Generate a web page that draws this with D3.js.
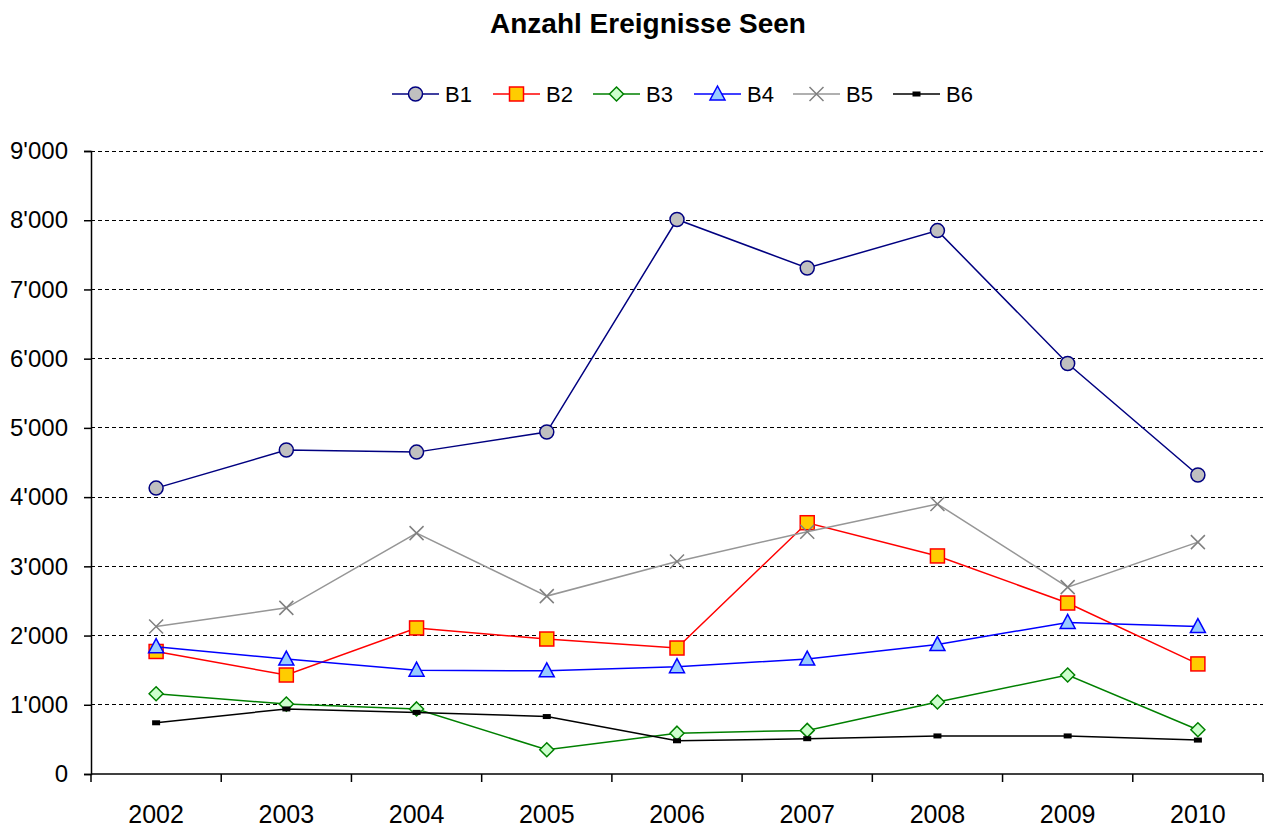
<!DOCTYPE html>
<html><head><meta charset="utf-8">
<script src="https://cdn.jsdelivr.net/npm/d3@7"></script>
<style>body{margin:0;background:#fff}svg{display:block;font-family:"Liberation Sans",Arial,sans-serif}</style>
</head><body>
<svg id="c" width="1274" height="827"></svg>
<script>
const years = ["2002","2003","2004","2005","2006","2007","2008","2009","2010"];
const B1 = [4130,4680,4650,4940,8010,7310,7850,5930,4320];
const B2 = [1770,1430,2110,1950,1820,3630,3150,2470,1590];
const B3 = [1160,1010,940,350,590,630,1040,1430,640];
const B4 = [1840,1660,1500,1490,1550,1660,1870,2190,2130];
const B5 = [2130,2400,3480,2570,3070,3500,3900,2700,3350];
const B6 = [740,940,890,830,480,510,550,550,490];
const seriesNames = ["B1","B2","B3","B4","B5","B6"];
const yTicks = [0,1000,2000,3000,4000,5000,6000,7000,8000,9000];
const title = "Anzahl Ereignisse Seen";

const svg = d3.select("#c");
const x = d3.scaleBand().domain(years).range([91,1263]);
const y = d3.scaleLinear().domain([0,9000]).range([774,151]);
const fmt = v => d3.format(",")(v).replace(/,/g,"'");

const styles = {
  B1:{line:"#000080", type:"circle", fill:"#C0C0C0", stroke:"#000080"},
  B2:{line:"#FF0000", type:"square", fill:"#FFCC00", stroke:"#FF0000"},
  B3:{line:"#008000", type:"diamond", fill:"#CCFFCC", stroke:"#008000"},
  B4:{line:"#0000FF", type:"triangle", fill:"#99CCFF", stroke:"#0000FF"},
  B5:{line:"#969696", type:"x", fill:"none", stroke:"#808080"},
  B6:{line:"#000000", type:"bar", fill:"#000000", stroke:"#000000"}
};
const data = {B1,B2,B3,B4,B5,B6};

svg.append("text").attr("x",648).attr("y",33).attr("text-anchor","middle")
  .attr("font-weight","bold").attr("font-size",28).text(title);

// grid
svg.append("g").selectAll("line").data(yTicks.filter(d=>d>0)).join("line")
  .attr("x1",91).attr("x2",1263).attr("y1",d=>y(d)).attr("y2",d=>y(d))
  .attr("stroke","#000").attr("stroke-width",1).attr("stroke-dasharray","4,3")
  .attr("shape-rendering","crispEdges");

// y axis
const ya = svg.append("g").attr("transform","translate(91,0)")
  .call(d3.axisLeft(y).tickValues(yTicks).tickFormat(fmt).tickSize(7).tickPadding(16));
ya.select(".domain").attr("stroke","#000").attr("stroke-width",1.5);
ya.selectAll(".tick line").attr("stroke","#000").attr("stroke-width",1.5);
ya.selectAll("text").attr("font-size",24).attr("fill","#000").attr("font-family","Liberation Sans, Arial, sans-serif");

// x axis
const xa = svg.append("g").attr("transform","translate(0,774)")
  .call(d3.axisBottom(x).tickSize(0).tickPadding(28));
xa.select(".domain").attr("stroke","#000").attr("stroke-width",1.5).attr("d","M91,0H1263");
xa.selectAll("text").attr("font-size",25).attr("fill","#000").attr("font-family","Liberation Sans, Arial, sans-serif")
  .attr("dy",null).attr("y",49);
svg.append("g").selectAll("line").data(d3.range(years.length+1)).join("line")
  .attr("x1",i=>91+i*x.step()).attr("x2",i=>91+i*x.step())
  .attr("y1",774).attr("y2",782).attr("stroke","#000").attr("stroke-width",1.5);

function marker(g, type, st, cx, cy){
  if(type==="circle") g.append("circle").attr("cx",cx).attr("cy",cy).attr("r",7).attr("fill",st.fill).attr("stroke",st.stroke).attr("stroke-width",1.5);
  if(type==="square") g.append("rect").attr("x",cx-7).attr("y",cy-7).attr("width",14).attr("height",14).attr("fill",st.fill).attr("stroke",st.stroke).attr("stroke-width",1.5);
  if(type==="diamond") g.append("path").attr("d",`M${cx},${cy-7}L${cx+7},${cy}L${cx},${cy+7}L${cx-7},${cy}Z`).attr("fill",st.fill).attr("stroke",st.stroke).attr("stroke-width",1.5);
  if(type==="triangle") g.append("path").attr("d",`M${cx},${cy-8}L${cx+7.5},${cy+6}L${cx-7.5},${cy+6}Z`).attr("fill",st.fill).attr("stroke",st.stroke).attr("stroke-width",1.5);
  if(type==="x") g.append("path").attr("d",`M${cx-7},${cy-7}L${cx+7},${cy+7}M${cx-7},${cy+7}L${cx+7},${cy-7}`).attr("stroke",st.stroke).attr("stroke-width",1.5);
  if(type==="bar") g.append("rect").attr("x",cx-4).attr("y",cy-2.5).attr("width",8).attr("height",5).attr("fill",st.fill);
}

const line = d3.line().x((d,i)=>x(years[i])+x.bandwidth()/2).y(d=>y(d));
seriesNames.forEach(n=>{
  const st = styles[n];
  const g = svg.append("g");
  g.append("path").datum(data[n]).attr("d",line).attr("fill","none").attr("stroke",st.line).attr("stroke-width",1.5);
  data[n].forEach((v,i)=>marker(g, st.type, st, x(years[i])+x.bandwidth()/2, y(v)));
});

// legend
const lx = [392,493,593,694,793,893];
seriesNames.forEach((n,i)=>{
  const st = styles[n];
  const g = svg.append("g");
  const x0 = lx[i], ly = 94;
  g.append("line").attr("x1",x0).attr("x2",x0+47).attr("y1",ly).attr("y2",ly).attr("stroke",st.line).attr("stroke-width",1.5);
  marker(g, st.type, st, x0+23.5, ly);
  g.append("text").attr("x",x0+53).attr("y",ly+8).attr("font-size",22).text(n);
});
</script>
</body></html>
